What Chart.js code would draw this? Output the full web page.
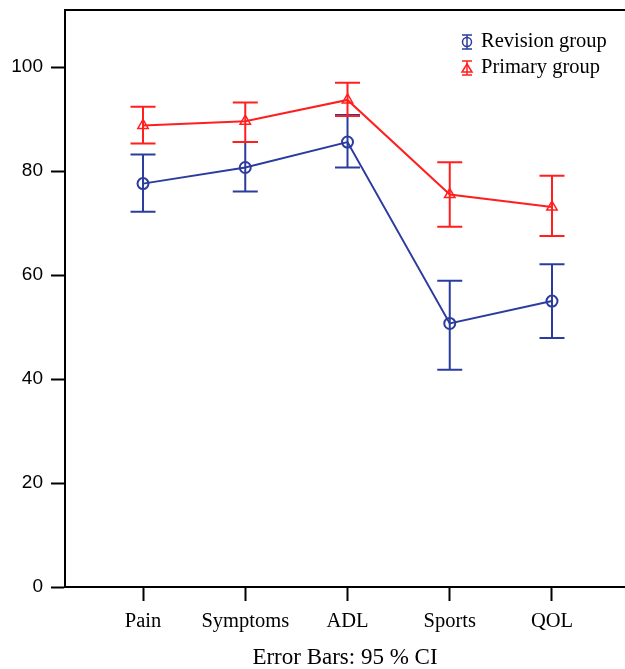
<!DOCTYPE html>
<html>
<head>
<meta charset="utf-8">
<script src="https://cdn.jsdelivr.net/npm/chart.js@4.4.1/dist/chart.umd.min.js"></script>
<style>
  html, body { margin: 0; padding: 0; background: #fff; overflow: hidden; }
</style>
</head>
<body>
<canvas id="canvas" width="625" height="669"></canvas>
<script>
const categories = ['Pain', 'Symptoms', 'ADL', 'Sports', 'QOL'];
const yTicks = [0, 20, 40, 60, 80, 100];

const revisionMean = [77.6, 80.7, 85.6, 50.7, 55.0];
const revisionLow  = [72.2, 76.1, 80.7, 41.8, 47.9];
const revisionHigh = [83.2, 85.6, 90.8, 58.9, 62.1];

const primaryMean = [88.8, 89.6, 93.7, 75.5, 73.1];
const primaryLow  = [85.3, 85.6, 90.6, 69.3, 67.5];
const primaryHigh = [92.4, 93.2, 97.0, 81.7, 79.1];

const BLUE = '#2b3c9e';
const RED = '#ff1f1f';
const SERIF = '"Liberation Serif", "Times New Roman", serif';
const SANS = '"Liberation Sans", Arial, sans-serif';

// error bars drawn from the CI arrays through the y scale
const errorBars = {
    id: 'errorBars',
    afterDatasetsDraw(chart) {
        const ctx = chart.ctx;
        const y = chart.scales.y;
        chart.data.datasets.forEach((ds, i) => {
            const meta = chart.getDatasetMeta(i);
            ctx.save();
            ctx.strokeStyle = ds.borderColor;
            ctx.lineWidth = 2;
            meta.data.forEach((pt, j) => {
                const top = y.getPixelForValue(ds.ciHigh[j]);
                const bot = y.getPixelForValue(ds.ciLow[j]);
                ctx.beginPath();
                ctx.moveTo(pt.x, top); ctx.lineTo(pt.x, bot);
                ctx.moveTo(pt.x - 12.5, top); ctx.lineTo(pt.x + 12.5, top);
                ctx.moveTo(pt.x - 12.5, bot); ctx.lineTo(pt.x + 12.5, bot);
                ctx.stroke();
            });
            ctx.restore();
        });
    }
};

// top frame line and legend
const frame = {
    id: 'frame',
    afterDraw(chart) {
        const ctx = chart.ctx;
        const a = chart.chartArea;
        ctx.save();
        ctx.strokeStyle = '#000';
        ctx.lineWidth = 2;
        ctx.beginPath();
        ctx.moveTo(a.left, a.top); ctx.lineTo(chart.width, a.top);
        ctx.stroke();

        const items = [
            {text: 'Revision group', color: BLUE, shape: 'circle', y: 42},
            {text: 'Primary group', color: RED, shape: 'triangle', y: 68}
        ];
        items.forEach(it => {
            const cx = 467;
            ctx.strokeStyle = it.color;
            ctx.lineWidth = 1.5;
            ctx.beginPath();
            ctx.moveTo(cx, it.y - 7); ctx.lineTo(cx, it.y + 7);
            ctx.moveTo(cx - 5, it.y - 7); ctx.lineTo(cx + 5, it.y - 7);
            ctx.moveTo(cx - 5, it.y + 7); ctx.lineTo(cx + 5, it.y + 7);
            ctx.stroke();
            ctx.beginPath();
            if (it.shape === 'circle') {
                ctx.arc(cx, it.y, 4.5, 0, Math.PI * 2);
            } else {
                ctx.moveTo(cx, it.y - 4); ctx.lineTo(cx + 5, it.y + 4); ctx.lineTo(cx - 5, it.y + 4); ctx.closePath();
            }
            ctx.stroke();
            ctx.fillStyle = '#000';
            ctx.font = '20.5px ' + SERIF;
            ctx.textAlign = 'left';
            ctx.textBaseline = 'middle';
            ctx.fillText(it.text, 481, it.y);
        });
        ctx.restore();
    }
};

const toPoints = arr => arr.map((v, i) => ({x: i, y: v}));

new Chart(document.getElementById('canvas').getContext('2d'), {
    type: 'line',
    data: {
        datasets: [
            {
                label: 'Revision group',
                data: toPoints(revisionMean),
                ciLow: revisionLow,
                ciHigh: revisionHigh,
                borderColor: BLUE,
                backgroundColor: 'rgba(0,0,0,0)',
                borderWidth: 2,
                pointStyle: 'circle',
                pointRadius: 5.5,
                pointBorderWidth: 2,
                pointBackgroundColor: 'rgba(0,0,0,0)',
                pointBorderColor: BLUE,
                tension: 0
            },
            {
                label: 'Primary group',
                data: toPoints(primaryMean),
                ciLow: primaryLow,
                ciHigh: primaryHigh,
                borderColor: RED,
                backgroundColor: 'rgba(0,0,0,0)',
                borderWidth: 2,
                pointStyle: 'triangle',
                pointRadius: 6,
                pointBorderWidth: 1.5,
                pointBackgroundColor: 'rgba(0,0,0,0)',
                pointBorderColor: RED,
                tension: 0
            }
        ]
    },
    options: {
        responsive: false,
        animation: false,
        events: [],
        layout: {autoPadding: false, padding: {top: 10, right: 0, left: 0, bottom: 0}},
        plugins: {
            legend: {display: false},
            tooltip: {enabled: false}
        },
        scales: {
            x: {
                type: 'linear',
                min: -0.763,
                max: 4.714,
                afterBuildTicks: s => { s.ticks = categories.map((c, i) => ({value: i})); },
                afterFit: s => { s.height = 82; s.paddingLeft = 0; s.paddingRight = 0; },
                ticks: {
                    callback: v => categories[v],
                    color: '#000',
                    font: {family: SERIF, size: 20.5},
                    padding: 8,
                    maxRotation: 0,
                    autoSkip: false
                },
                grid: {
                    drawOnChartArea: false,
                    drawTicks: true,
                    tickLength: 14,
                    tickWidth: 2,
                    tickColor: '#000'
                },
                border: {display: true, color: '#000', width: 2},
                title: {
                    display: true,
                    text: 'Error Bars: 95 % CI',
                    color: '#000',
                    font: {family: SERIF, size: 23},
                    padding: {top: 2, bottom: -3}
                }
            },
            y: {
                min: 0,
                max: 111,
                afterBuildTicks: s => { s.ticks = yTicks.map(v => ({value: v})); },
                afterFit: s => { s.width = 65; s.paddingTop = 0; s.paddingBottom = 0; },
                ticks: {
                    color: '#000',
                    font: {family: SANS, size: 19},
                    padding: 8
                },
                grid: {
                    drawOnChartArea: false,
                    drawTicks: true,
                    tickLength: 14,
                    tickWidth: 2,
                    tickColor: '#000'
                },
                border: {display: true, color: '#000', width: 2}
            }
        }
    },
    plugins: [errorBars, frame]
});
</script>
</body>
</html>
